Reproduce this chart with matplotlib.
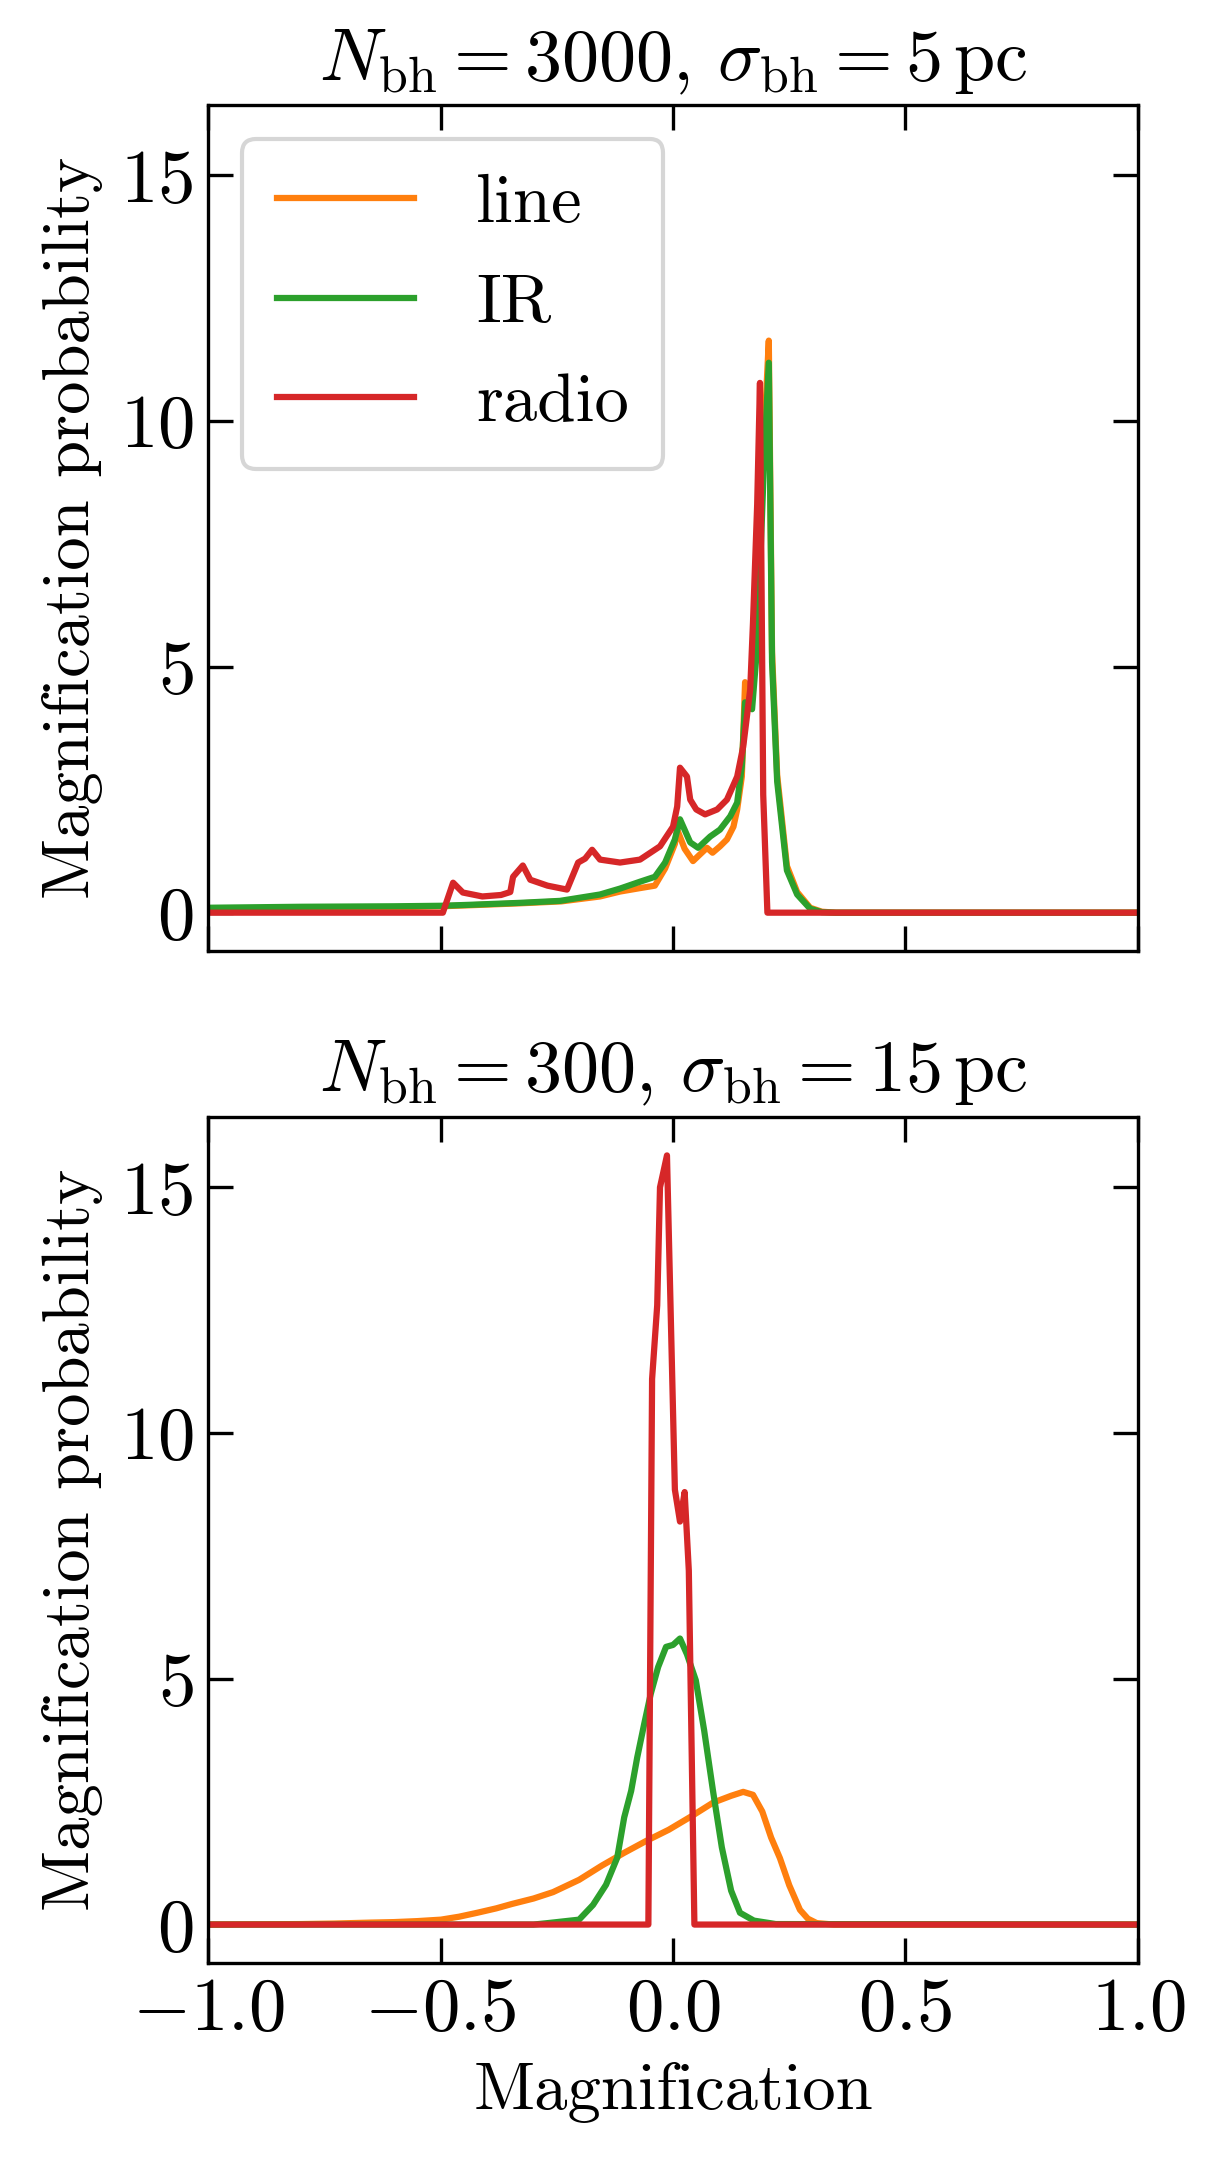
import matplotlib
matplotlib.use("Agg")
import matplotlib.pyplot as plt

plt.rcParams['font.family'] = 'serif'
plt.rcParams['font.serif'] = ['cmr10']
plt.rcParams['mathtext.fontset'] = 'cm'
plt.rcParams['axes.formatter.use_mathtext'] = True
plt.rcParams['font.size'] = 18
plt.rcParams['axes.unicode_minus'] = True

# top panel: N_bh = 3000, sigma_bh = 5 pc
x_line_top = [-1.0, -0.8, -0.6, -0.5, -0.44, -0.33, -0.24, -0.157, -0.114, -0.071, -0.039, -0.017,
              0.004, 0.009, 0.025, 0.043, 0.054, 0.073, 0.085, 0.101, 0.116, 0.130, 0.138, 0.148,
              0.155, 0.160, 0.166, 0.181, 0.195, 0.206, 0.213, 0.224, 0.245, 0.267, 0.295, 0.32, 0.35, 1.0]
y_line_top = [0.08, 0.1, 0.11, 0.13, 0.15, 0.19, 0.23, 0.33, 0.43, 0.5, 0.55, 0.9,
              1.4, 1.69, 1.3, 1.05, 1.15, 1.32, 1.22, 1.35, 1.49, 1.75, 2.1, 2.77,
              4.69, 4.4, 4.4, 5.8, 9.5, 11.64, 5.3, 2.8, 0.95, 0.42, 0.1, 0.02, 0.0, 0.0]

x_ir_top = [-1.0, -0.8, -0.6, -0.5, -0.437, -0.329, -0.243, -0.157, -0.114, -0.071, -0.039, -0.017,
            0.004, 0.015, 0.037, 0.054, 0.080, 0.101, 0.123, 0.138, 0.148, 0.155, 0.170, 0.181,
            0.195, 0.206, 0.213, 0.224, 0.245, 0.267, 0.295, 0.32, 0.35, 1.0]
y_ir_top = [0.1, 0.12, 0.13, 0.14, 0.16, 0.2, 0.24, 0.37, 0.49, 0.63, 0.73, 1.02,
            1.49, 1.9, 1.43, 1.32, 1.55, 1.69, 1.96, 2.24, 2.98, 4.28, 4.14, 5.42,
            9.0, 11.19, 5.1, 2.67, 0.86, 0.37, 0.08, 0.01, 0.0, 0.0]

x_radio_top = [-1.0, -0.495, -0.473, -0.452, -0.41, -0.37, -0.35, -0.344, -0.323, -0.307, -0.27, -0.228,
               -0.204, -0.189, -0.174, -0.157, -0.114, -0.071, -0.028, 0.0, 0.009, 0.015, 0.030, 0.037,
               0.050, 0.069, 0.095, 0.116, 0.138, 0.151, 0.166, 0.172, 0.181, 0.187, 0.194, 0.203, 1.0]
y_radio_top = [0.0, 0.0, 0.61, 0.41, 0.33, 0.36, 0.42, 0.73, 0.96, 0.67, 0.55, 0.47,
               1.02, 1.10, 1.28, 1.08, 1.02, 1.08, 1.35, 1.75, 2.16, 2.95, 2.77, 2.3,
               2.1, 2.0, 2.1, 2.3, 2.77, 3.38, 4.54, 5.9, 8.3, 10.78, 2.4, 0.0, 0.0]

# bottom panel: N_bh = 300, sigma_bh = 15 pc
x_line_bot = [-1.0, -0.8, -0.729, -0.65, -0.6, -0.55, -0.499, -0.46, -0.421, -0.38, -0.346, -0.30,
              -0.258, -0.202, -0.153, -0.105, -0.058, -0.009, 0.039, 0.086, 0.125, 0.151, 0.172, 0.192,
              0.211, 0.230, 0.250, 0.273, 0.290, 0.309, 0.346, 1.0]
y_line_bot = [0.0, 0.01, 0.02, 0.04, 0.05, 0.07, 0.1, 0.16, 0.24, 0.33, 0.42, 0.53,
              0.66, 0.91, 1.2, 1.46, 1.7, 1.93, 2.2, 2.48, 2.62, 2.7, 2.64, 2.3,
              1.77, 1.35, 0.8, 0.3, 0.12, 0.03, 0.0, 0.0]

x_ir_bot = [-1.0, -0.3, -0.269, -0.202, -0.172, -0.144, -0.120, -0.105, -0.090, -0.077, -0.062, -0.048,
            -0.032, -0.015, 0.0, 0.015, 0.030, 0.049, 0.067, 0.086, 0.105, 0.125, 0.144, 0.174,
            0.221, 1.0]
y_ir_bot = [0.0, 0.0, 0.03, 0.1, 0.4, 0.81, 1.36, 2.18, 2.72, 3.4, 4.08, 4.69,
            5.24, 5.65, 5.69, 5.82, 5.5, 4.97, 3.95, 2.72, 1.57, 0.69, 0.24, 0.08,
            0.01, 0.0]

x_radio_bot = [-1.0, -0.053, -0.045, -0.034, -0.028, -0.013, 0.004, 0.015, 0.025, 0.034, 0.046, 1.0]
y_radio_bot = [0.0, 0.0, 11.1, 12.6, 15.0, 15.65, 8.85, 8.2, 8.8, 7.2, 0.0, 0.0]

titles = [r'$N_{\rm bh} = 3000,\, \sigma_{\rm bh} = 5\,{\rm pc}$',
          r'$N_{\rm bh} = 300,\, \sigma_{\rm bh} = 15\,{\rm pc}$']
labels = ['line', 'IR', 'radio']
colors = ['tab:orange', 'tab:green', 'tab:red']

fig, axes = plt.subplots(2, 1, figsize=(1211 / 300, 2171 / 300), dpi=300, sharex=True, sharey=True)
fig.subplots_adjust(left=0.1718, right=0.9397, top=0.9516, bottom=0.0958, hspace=0.196)

panels = [
    [(x_line_top, y_line_top), (x_ir_top, y_ir_top), (x_radio_top, y_radio_top)],
    [(x_line_bot, y_line_bot), (x_ir_bot, y_ir_bot), (x_radio_bot, y_radio_bot)],
]

for ax, series, title in zip(axes, panels, titles):
    for (xs, ys), lab, c in zip(series, labels, colors):
        ax.plot(xs, ys, color=c, label=lab, lw=1.5)
    ax.set_title(title, fontsize=17.8)
    ax.set_ylabel('Magnification probability', fontsize=16)
    ax.tick_params(direction='in', top=True, right=True, length=6, width=0.8)
    ax.set_yticks([0, 5, 10, 15])

axes[0].set_xlim(-1, 1)
axes[0].legend(loc='upper left', fontsize=16.5, borderpad=0.5, handletextpad=0.9, labelspacing=0.56)
axes[1].set_xlabel('Magnification', fontsize=16)
axes[1].set_xticks([-1.0, -0.5, 0.0, 0.5, 1.0])

fig.savefig('out.png', dpi=300)
